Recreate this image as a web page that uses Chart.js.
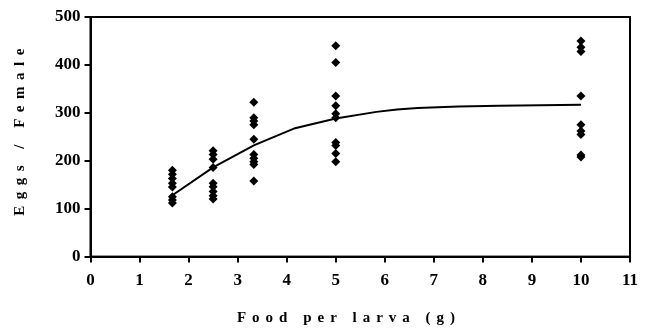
<!DOCTYPE html>
<html>
<head>
<meta charset="utf-8">
<script src="https://cdn.jsdelivr.net/npm/chart.js@4"></script>
<style>
  html, body { margin: 0; padding: 0; background: #fff; }
  #wrap { width: 649px; height: 329px; }
</style>
</head>
<body>
<div id="wrap"><canvas id="chart" width="649" height="329"></canvas></div>
<script>
// food levels (g per larva) and eggs per female observed at each level
const foodLevels = [1.67, 2.5, 3.33, 5, 10];
const eggsAt167 = [180, 172, 163, 153, 145, 125, 118, 112];
const eggsAt25 = [221, 213, 203, 186, 153, 146, 136, 127, 120];
const eggsAt333 = [322, 290, 283, 275, 245, 213, 205, 198, 192, 158];
const eggsAt5 = [440, 405, 335, 315, 298, 290, 238, 232, 215, 198];
const eggsAt10 = [450, 437, 428, 335, 275, 262, 255, 212, 208];

// fitted curve
const fitX = [1.67, 2.5, 3.33, 4.17, 5, 5.83, 6.25, 6.67, 7.5, 8.33, 9.17, 10];
const fitY = [128, 186, 232, 268, 288, 302, 307, 310, 313, 315, 316, 317];

const xTicks = [0, 1, 2, 3, 4, 5, 6, 7, 8, 9, 10, 11];
const yTicks = [0, 100, 200, 300, 400, 500];

const xTitle = "Food per larva (g)";
const yTitle = "Eggs / Female";

const eggGroups = [eggsAt167, eggsAt25, eggsAt333, eggsAt5, eggsAt10];
const scatterPoints = [];
eggGroups.forEach((group, i) => {
    group.forEach(v => scatterPoints.push({ x: foodLevels[i], y: v }));
});
const fitPoints = fitX.map((x, i) => ({ x, y: fitY[i] }));

const family = "'Liberation Serif', 'Times New Roman', serif";
const font = { family, weight: "bold" };

// box around plot area + letter-spaced axis titles
const decorPlugin = {
    id: "decor",
    afterDraw(chart) {
        const { ctx, chartArea: a } = chart;
        ctx.save();
        ctx.strokeStyle = "#000";
        ctx.lineWidth = 2;
        ctx.strokeRect(a.left, a.top, a.right - a.left, a.bottom - a.top);

        ctx.fillStyle = "#000";
        ctx.font = `bold 15px ${family}`;
        ctx.textAlign = "center";
        ctx.textBaseline = "middle";
        ctx.letterSpacing = "6px";
        ctx.fillText(xTitle, 349, 318);

        ctx.translate(20, 132);
        ctx.rotate(-Math.PI / 2);
        ctx.letterSpacing = "6.5px";
        ctx.fillText(yTitle, 3, 0);
        ctx.restore();
    },
};

new Chart(document.getElementById("chart"), {
    type: "scatter",
    data: {
        datasets: [
            {
                label: "Observed",
                data: scatterPoints,
                pointStyle: "rectRot",
                pointRadius: 4.5,
                backgroundColor: "#000",
                borderColor: "#000",
                borderWidth: 0,
            },
            {
                label: "Fit",
                type: "line",
                data: fitPoints,
                borderColor: "#000",
                borderWidth: 2,
                pointRadius: 0,
                tension: 0,
                fill: false,
            },
        ],
    },
    options: {
        responsive: false,
        animation: false,
        layout: { padding: { top: 17, right: 19, left: 51, bottom: 30 } },
        plugins: { legend: { display: false }, tooltip: { enabled: false } },
        scales: {
            x: {
                type: "linear",
                min: 0,
                max: 11,
                afterBuildTicks: axis => { axis.ticks = xTicks.map(v => ({ value: v })); },
                grid: { drawOnChartArea: false, color: "#000", tickLength: 6, lineWidth: 2 },
                border: { color: "#000", width: 2 },
                ticks: { color: "#000", font: { ...font, size: 17 }, padding: 8, maxRotation: 0 },
            },
            y: {
                min: 0,
                max: 500,
                afterBuildTicks: axis => { axis.ticks = yTicks.map(v => ({ value: v })); },
                grid: { drawOnChartArea: false, color: "#000", tickLength: 6, lineWidth: 2 },
                border: { color: "#000", width: 2 },
                ticks: { color: "#000", font: { ...font, size: 17 }, padding: 4 },
            },
        },
    },
    plugins: [decorPlugin],
});
</script>
</body>
</html>
